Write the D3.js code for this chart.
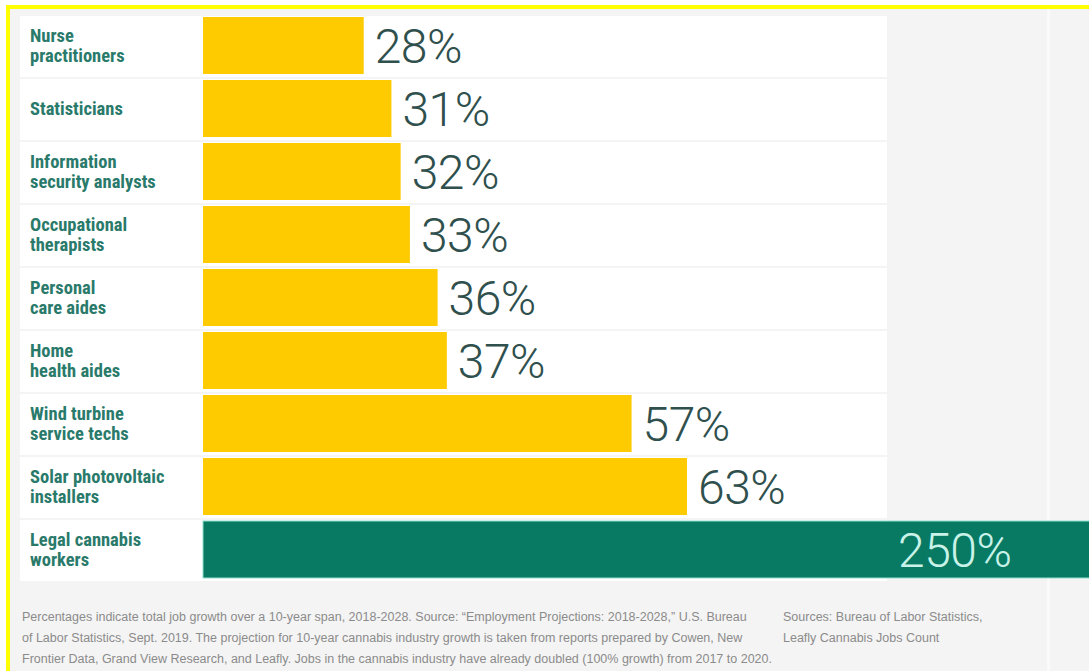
<!DOCTYPE html>
<html>
<head>
<meta charset="utf-8">
<script src="https://cdn.jsdelivr.net/npm/d3@7"></script>
<style>
  html,body{margin:0;padding:0;background:#fff;}
  svg{display:block;}
</style>
</head>
<body>
<svg id="chart"></svg>
<script>
// job growth 2018-2028
const categories=[
  ["Nurse","practitioners"],
  ["Statisticians"],
  ["Information","security analysts"],
  ["Occupational","therapists"],
  ["Personal","care aides"],
  ["Home","health aides"],
  ["Wind turbine","service techs"],
  ["Solar photovoltaic","installers"],
  ["Legal cannabis","workers"]
];
const values=[28,31,32,33,36,37,57,63,250];
const highlight=[false,false,false,false,false,false,false,false,true];

const noteLines=[
  "Percentages indicate total job growth over a 10-year span, 2018-2028. Source: \u201cEmployment Projections: 2018-2028,\u201d U.S. Bureau",
  "of Labor Statistics, Sept. 2019. The projection for 10-year cannabis industry growth is taken from reports prepared by Cowen, New",
  "Frontier Data, Grand View Research, and Leafly. Jobs in the cannabis industry have already doubled (100% growth) from 2017 to 2020."
];
const sourceLines=["Sources: Bureau of Labor Statistics,","Leafly Cannabis Jobs Count"];

const w=1089, h=671;
const svg=d3.select('#chart').attr('width',w).attr('height',h).attr('viewBox',`0 0 ${w} ${h}`);

// frame: grey page with the yellow highlight edge at top and left
svg.append('rect').attr('x',6).attr('y',5).attr('width',w-6).attr('height',h-5).attr('fill','#f4f4f4');
svg.append('rect').attr('x',1047).attr('y',9).attr('width',3).attr('height',h-9).attr('fill','#fafafa');
svg.append('rect').attr('x',6).attr('y',5).attr('width',w-6).attr('height',4).attr('fill','#ffff00');
svg.append('rect').attr('x',6).attr('y',5).attr('width',4).attr('height',h-5).attr('fill','#ffff00');

const idx=d3.range(values.length);
const y=d3.scaleBand().domain(idx).range([16,16+63*values.length]).padding(0);
const x=d3.scaleLinear().domain([10.6,63]).range([203,687]);

const rows=svg.append('g').selectAll('g').data(idx).join('g')
  .attr('transform',i=>`translate(0,${y(i)})`);

// white row strip
rows.append('rect')
  .attr('x',20).attr('y',0)
  .attr('width',867).attr('height',y.step()-2)
  .attr('fill','#ffffff');

// bars
rows.append('rect')
  .attr('x',x.range()[0]).attr('y',1)
  .attr('width',i=>x(values[i])-x.range()[0])
  .attr('height',y.step()-6)
  .attr('fill',i=>highlight[i]?'#087a64':'#fecb00')
  .attr('stroke',i=>highlight[i]?'#8fe0cc':'none')
  .attr('stroke-width',1);

// category labels
rows.append('text')
  .attr('fill','#2a7a6b')
  .style('font-family','"Liberation Sans Narrow","Roboto Condensed","Liberation Sans",sans-serif')
  .style('font-weight','bold')
  .style('font-size','18.5px')
  .each(function(i){
    const lines=categories[i];
    const mid=(y.step()-4)/2;
    const first=mid+6-(lines.length-1)*10;
    d3.select(this).selectAll('tspan').data(lines).join('tspan')
      .attr('x',30)
      .attr('y',(d,k)=>first+k*20)
      .text(d=>d);
  });

// value labels
rows.append('text')
  .attr('x',i=>highlight[i]?898:x(values[i])+11)
  .attr('y',(y.step()-4)/2+17)
  .attr('fill',i=>highlight[i]?'#c9f3e8':'#2f504d')
  .style('font-family','Roboto,"Liberation Sans",sans-serif')
  .style('font-weight','300')
  .style('font-size','48px')
  .style('letter-spacing','-0.5px')
  .text(i=>values[i]+'%');

// footnotes
const foot=svg.append('g')
  .attr('fill','#8b8b8b')
  .style('font-family','"Liberation Sans Narrow","Liberation Sans",sans-serif')
  .style('font-size','12.5px');

foot.selectAll('text.note').data(noteLines).join('text')
  .attr('class','note')
  .attr('x',22)
  .attr('y',(d,k)=>621+k*21)
  .text(d=>d);

foot.selectAll('text.src').data(sourceLines).join('text')
  .attr('class','src')
  .attr('x',783)
  .attr('y',(d,k)=>621+k*21)
  .text(d=>d);
</script>
</body>
</html>
